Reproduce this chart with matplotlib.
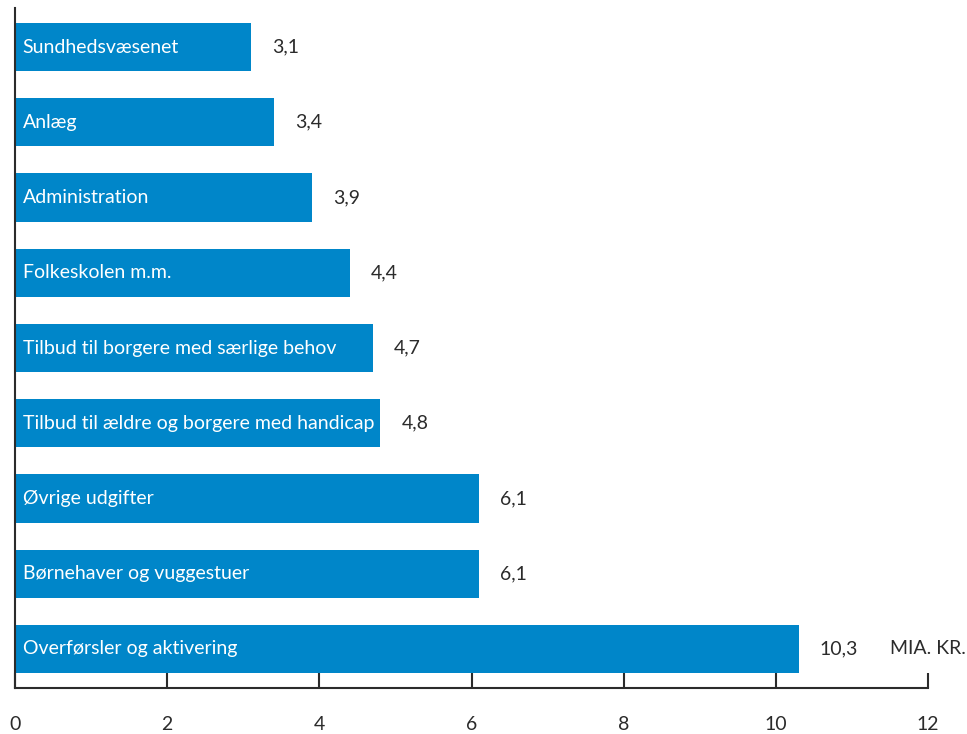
import matplotlib.pyplot as plt

# data (mia. kr.), top to bottom as in the chart
categories = ["Sundhedsvæsenet", "Anlæg", "Administration", "Folkeskolen m.m.",
              "Tilbud til borgere med særlige behov",
              "Tilbud til ældre og borgere med handicap",
              "Øvrige udgifter", "Børnehaver og vuggestuer",
              "Overførsler og aktivering"]
values = [3.1, 3.4, 3.9, 4.4, 4.7, 4.8, 6.1, 6.1, 10.3]
value_labels = ["3,1", "3,4", "3,9", "4,4", "4,7", "4,8", "6,1", "6,1", "10,3"]
xticks = [0, 2, 4, 6, 8, 10, 12]

plt.rcParams["font.family"] = ["Lato", "DejaVu Sans"]

blue = "#0086C9"
dark = "#2b2b2b"

fig = plt.figure(figsize=(9.67, 7.34), dpi=100)
ax = fig.add_axes([15 / 967, 1 - 688 / 734, (928 - 15) / 967, (688 - 8) / 734])

ypos = list(range(len(categories)))
ax.barh(ypos, values, height=0.64, color=blue)

for y, v, cat, lab in zip(ypos, values, categories, value_labels):
    ax.text(0.1, y, cat, color="white", va="center", ha="left", fontsize=14)
    ax.text(v + 0.28, y, lab, color=dark, va="center", ha="left", fontsize=14)

ax.text(12.5, 8, "MIA. KR.", color=dark, va="center", ha="right", fontsize=14)

ax.set_xlim(0, 12)
ax.set_ylim(8.52, -0.52)
ax.set_yticks([])
ax.set_xticks(xticks)
ax.set_xticklabels([str(t) for t in xticks], fontsize=14, color=dark)
ax.tick_params(axis="x", direction="in", length=11, width=1.5, color=dark, pad=20)

for s in ["top", "right"]:
    ax.spines[s].set_visible(False)
for s in ["left", "bottom"]:
    ax.spines[s].set_color(dark)
    ax.spines[s].set_linewidth(1.5)

fig.savefig("out.png", dpi=100)
